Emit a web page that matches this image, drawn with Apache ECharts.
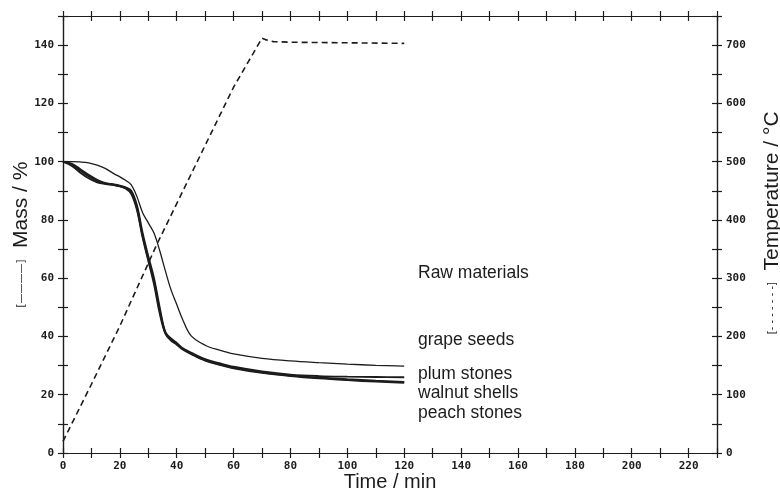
<!DOCTYPE html>
<html>
<head>
<meta charset="utf-8">
<script src="https://cdn.jsdelivr.net/npm/echarts@6/dist/echarts.min.js"></script>
<style>html,body{margin:0;padding:0;background:#fff}#c{width:780px;height:494px}</style>
</head>
<body>
<div id="c"></div>
<script>
// ---- data ----
var massTime   = [0, 3, 6, 9, 12, 15, 18, 20, 22, 24, 26, 28, 30, 32, 34, 36, 38, 40, 42, 45, 50, 55, 60, 70, 80, 90, 100, 110, 120];
var grapeSeeds = [100, 100, 99.9, 99.6, 98.8, 97.6, 95.8, 94.8, 93.6, 92, 88, 82.5, 79, 75.5, 69.5, 62.5, 56, 51, 46, 40.3, 37, 35.3, 34, 32.5, 31.6, 31, 30.5, 30.1, 29.8];
var plumStones = [100, 99.3, 97.5, 95.5, 93.8, 92.6, 92.2, 91.8, 91.2, 90, 85, 75.5, 67.5, 60, 50, 41.5, 39.3, 37.8, 36, 34.5, 32.2, 30.8, 29.6, 28, 26.9, 26.4, 26.2, 26.1, 26.0];
var walnutShells = [100, 98.6, 96.3, 94.3, 92.9, 92.3, 92, 91.6, 91, 89.5, 84, 74.5, 66.5, 59, 49, 41.3, 39, 37.5, 35.8, 34.2, 31.9, 30.5, 29.3, 27.7, 26.6, 25.9, 25.3, 24.8, 24.4];
var peachStones = [100, 99, 97, 95, 93.3, 92.5, 92, 91.5, 90.8, 89, 83.5, 74, 66, 58, 48, 41, 38.6, 37.2, 35.6, 34, 31.7, 30.3, 29.1, 27.5, 26.4, 25.6, 25, 24.5, 24.1];
var tempTime = [0, 10, 20, 33, 45, 60, 70, 71.5, 74, 80, 100, 120];
var tempVal  = [20, 118, 218, 358, 478, 628, 712, 709, 706, 705, 704, 703];
var seriesNames = ['grape seeds', 'plum stones', 'walnut shells', 'peach stones'];
var annotationTitle = 'Raw materials';

function pairs(xs, ys) { return xs.map(function (x, i) { return [x, ys[i]]; }); }

var INK = '#1c1c1c';
var tickFont = { fontFamily: 'DejaVu Sans Mono', fontWeight: 'bold', fontSize: 11, color: INK };
var line = { show: true, onZero: false, lineStyle: { color: INK, width: 1.2 } };

function xAx(pos, inside, labels) {
  return {
    type: 'value', position: pos, min: 0, max: 230, interval: 10,
    axisLine: line, splitLine: { show: false },
    axisTick: { show: true, inside: inside, length: 5, lineStyle: { color: INK, width: 1.2 } },
    axisLabel: labels ? Object.assign({ margin: 8, formatter: function (v) { return v % 20 === 0 ? v : ''; } }, tickFont) : { show: false }
  };
}
function yAx(pos, inside, labels, max, step, labelStep) {
  return {
    type: 'value', position: pos, min: 0, max: max, interval: step,
    axisLine: line, splitLine: { show: false },
    axisTick: { show: true, inside: inside, length: 5, lineStyle: { color: INK, width: 1.2 } },
    axisLabel: labels ? Object.assign({ margin: 9, formatter: function (v) { return v % labelStep === 0 ? v : ''; } }, tickFont) : { show: false }
  };
}

var xMain = xAx('bottom', false, true);
xMain.name = 'Time / min';
xMain.nameLocation = 'middle';
xMain.nameGap = 19;
xMain.nameMoveOverlap = false;
xMain.nameTextStyle = { fontFamily: 'Liberation Sans', fontSize: 20, color: INK, verticalAlign: 'top' };

var yMass = yAx('left', false, true, 150, 10, 20);
yMass.name = '{b|[————]}  Mass / %';
yMass.nameLocation = 'middle';
yMass.nameRotate = 90;
yMass.nameGap = 31;
yMass.nameMoveOverlap = false;
yMass.nameTextStyle = { fontFamily: 'Liberation Sans', fontSize: 21, color: INK,
  rich: { b: { fontFamily: 'DejaVu Sans', fontSize: 10, color: INK } } };

var yTemp = yAx('right', false, true, 750, 50, 100);
yTemp.axisLabel.align = 'left';
yTemp.name = '    {b|[- - - - - - -]}  Temperature / °C';
yTemp.nameLocation = 'middle';
yTemp.nameRotate = 90;
yTemp.nameGap = 45;
yTemp.nameMoveOverlap = false;
yTemp.nameTextStyle = { fontFamily: 'Liberation Sans', fontSize: 21, color: INK,
  rich: { b: { fontFamily: 'DejaVu Sans', fontSize: 10, color: INK } } };

var massSeries = [grapeSeeds, plumStones, walnutShells, peachStones].map(function (vals, i) {
  return {
    name: seriesNames[i], type: 'line', xAxisIndex: 0, yAxisIndex: 0,
    data: pairs(massTime, vals), showSymbol: false, smooth: 0.35,
    lineStyle: { color: INK, width: i === 0 ? 1.3 : 1.9 }
  };
});

var annotations = [annotationTitle].concat(seriesNames);
var annTop = [273, 340, 374, 393, 413];

var chart = echarts.init(document.getElementById('c'), null, { renderer: 'canvas' });
chart.setOption({
  animation: false,
  backgroundColor: '#fff',
  grid: { left: 63, right: 63, top: 16, bottom: 41, containLabel: false, outerBoundsMode: 'none' },
  xAxis: [xMain, xAx('bottom', true, false), xAx('top', false, false), xAx('top', true, false)],
  yAxis: [yMass, yAx('left', true, false, 150, 10, 20), yTemp, yAx('right', true, false, 750, 50, 100)],
  series: massSeries.concat([{
    name: 'Temperature', type: 'line', xAxisIndex: 0, yAxisIndex: 2,
    data: pairs(tempTime, tempVal), showSymbol: false, smooth: false,
    lineStyle: { color: INK, width: 1.6, type: [6, 4] }
  }]),
  graphic: annotations.map(function (t, i) {
    return {
      type: 'text', x: 418, y: annTop[i],
      style: { text: t, fontFamily: 'Liberation Sans', fontSize: 17.5, fill: INK, verticalAlign: 'middle' }
    };
  })
});
</script>
</body>
</html>
